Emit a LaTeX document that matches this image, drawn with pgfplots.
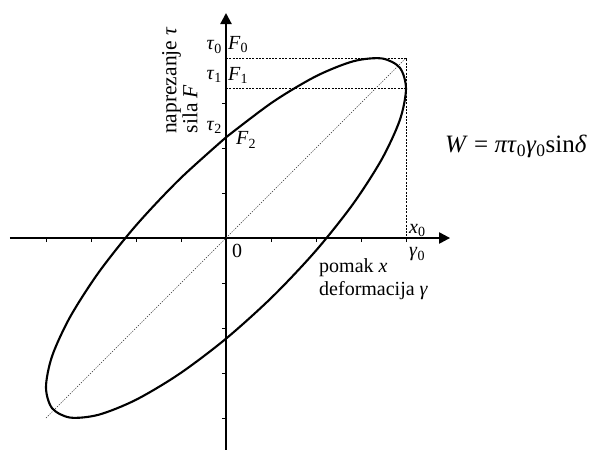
\documentclass[border=0pt]{standalone}
\usepackage{fontspec}
\setmainfont{Liberation Serif}
\usepackage{pgfplots}
\pgfplotsset{compat=1.18}
\usetikzlibrary{arrows.meta}
\newcommand\sub[1]{\textsubscript{#1}}
\newcommand\lbl{\fontsize{20bp}{20.5bp}\selectfont}
\newcommand\lblbig{\fontsize{21.5bp}{22bp}\selectfont}

\begin{document}
\begin{tikzpicture}
\begin{axis}[
  x=45bp, y=45bp,
  axis lines=middle,
  xmin=-4.8, xmax=4.98, ymin=-4.71, ymax=5.0,
  axis line style={line width=2.2bp},
  every inner x axis line/.append style={-{Triangle[length=11bp,width=11bp]}},
  every inner y axis line/.append style={-{Triangle[length=11bp,width=11bp]}},
  xtick={-4,-3,-2,-1,1,2,3,4}, ytick={-4,-3,-2,-1,1,2,3},
  xticklabels={}, yticklabels={},
  tick align=outside, major tick length=4bp,
  tick style={line width=0.8bp, black},
  clip=false,
]
% dotted guide lines
\addplot[black!80, line width=0.6bp, dash pattern=on 1.2bp off 1.4bp] coordinates {(-4,-4) (4,4)};
\addplot[black, line width=0.8bp, dash pattern=on 2bp off 1.3bp] coordinates {(0,4) (4,4) (4,0)};
\addplot[black, line width=0.8bp, dash pattern=on 2bp off 1.3bp] coordinates {(0,3.316) (4,3.316)};
% hysteresis loop (x0 = tau0 = 4, delta about 34 deg)
\addplot[black, line width=2.1bp, smooth] coordinates {
  (0,2.237) (-1.035,1.303) (-2,0.279) (-2.828,-0.763) (-3.464,-1.754)
  (-3.864,-2.624) (-4,-3.316) (-3.864,-3.782) (-3.464,-3.990) (-2.828,-3.927)
  (-2,-3.595) (-1.035,-3.019) (0,-2.237) (1.035,-1.303) (2,-0.279)
  (2.828,0.763) (3.464,1.754) (3.864,2.624) (4,3.316) (3.864,3.782)
  (3.464,3.990) (2.828,3.927) (2,3.595) (1.035,3.019) (0,2.237)
};

\node[anchor=base east, inner sep=0, font=\lbl] at (axis cs:-0.089,4.178) {\textit{τ}\sub{0}};
\node[anchor=base west, inner sep=0, font=\lbl] at (axis cs:0.044,4.2) {\textit{F}\sub{0}};
\node[anchor=base east, inner sep=0, font=\lbl] at (axis cs:-0.089,3.533) {\textit{τ}\sub{1}};
\node[anchor=base west, inner sep=0, font=\lbl] at (axis cs:0.044,3.51) {\textit{F}\sub{1}};
\node[anchor=base east, inner sep=0, font=\lbl] at (axis cs:-0.089,2.4) {\textit{τ}\sub{2}};
\node[anchor=base west, inner sep=0, font=\lbl] at (axis cs:0.222,2.067) {\textit{F}\sub{2}};
\node[anchor=base west, inner sep=0, font=\lbl] at (axis cs:0.133,-0.444) {0};
\node[anchor=base west, inner sep=0, font=\lbl] at (axis cs:4.067,0.111) {\textit{x}\sub{0}};
\node[anchor=base west, inner sep=0, font=\lbl] at (axis cs:4.067,-0.422) {\textit{γ}\sub{0}};
\node[anchor=base west, inner sep=0, font=\lbl] at (axis cs:2.067,-0.756) {pomak \textit{x}};
\node[anchor=base west, inner sep=0, font=\lbl] at (axis cs:2.067,-1.267) {deformacija \textit{γ}};
\node[anchor=base west, inner sep=0, rotate=90, font=\lblbig] at (axis cs:-1.1,2.311) {naprezanje \textit{τ}};
\node[anchor=base west, inner sep=0, rotate=90, font=\lblbig] at (axis cs:-0.638,2.322) {sila \textit{F}};
\node[anchor=base west, inner sep=0, font=\fontsize{25bp}{27bp}\selectfont] at (axis cs:4.867,1.889)
  {\textit{W} = \textit{πτ}\sub{0}\textit{γ}\sub{0}sin\textit{δ}};

\coordinate (bl) at (axis cs:-5.022,-4.778);
\coordinate (tr) at (axis cs:8.089,5.289);
\end{axis}
\pgfresetboundingbox
\path (bl) rectangle (tr);
\end{tikzpicture}
\end{document}
